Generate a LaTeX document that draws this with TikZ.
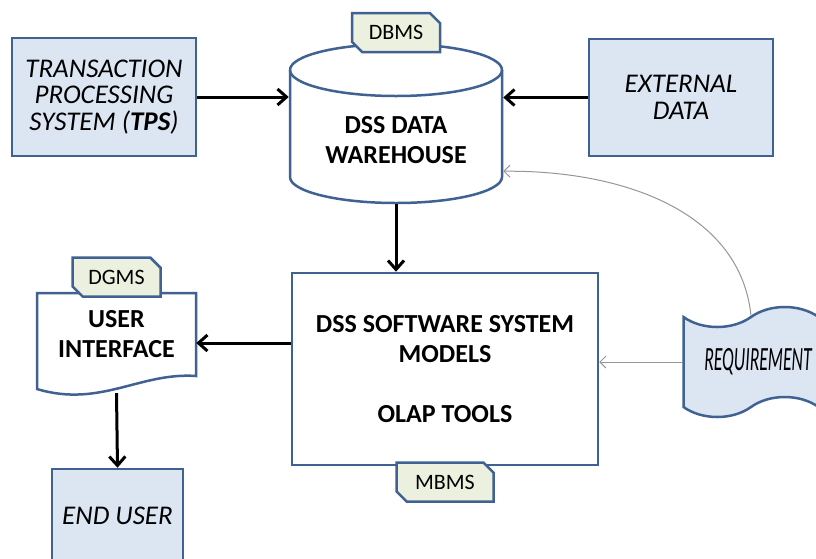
\documentclass[tikz,border=0pt]{standalone}
\usepackage{graphicx}
\usepackage{fontspec}
\setmainfont{Carlito}
\usetikzlibrary{positioning,shapes.misc,shapes.symbols,arrows.meta}
\definecolor{edgeblue}{RGB}{63,98,146}
\definecolor{boxfill}{RGB}{220,230,242}
\definecolor{tabfill}{RGB}{235,241,222}
\definecolor{linkgray}{RGB}{150,150,150}

\begin{document}
\begin{tikzpicture}[x=1pt,y=-1pt,
box/.style={draw=edgeblue,line width=2.5pt,fill=boxfill,rectangle,align=center,
  font=\fontsize{27}{26.5}\selectfont\itshape},
plain/.style={draw=edgeblue,line width=2.5pt,fill=white,align=center,
  font=\fontsize{26}{30}\selectfont\bfseries},
tab/.style={draw=edgeblue,line width=2.5pt,fill=tabfill,chamfered rectangle,
  chamfered rectangle corners={north east,south west},chamfered rectangle xsep=7pt,
  minimum width=88pt,minimum height=39pt,inner sep=0pt,font=\fontsize{22}{24}\selectfont},
flow/.style={-{Straight Barb[length=9pt,width=16pt]},line width=3pt},
feedback/.style={-{Straight Barb[length=6pt,width=12pt]},draw=linkgray,line width=1pt}]
\useasboundingbox (0,0) rectangle (816,558);
\clip (0,0) rectangle (816,558);

\node (tps) [box,minimum width=184pt,minimum height=118pt] at (104,97)
  {TRANSACTION\\PROCESSING\\SYSTEM (\textbf{TPS})};
\node (ext) [box,minimum width=184pt,minimum height=117pt] at (681,97.5)
  {EXTERNAL\\DATA};

\draw [draw=edgeblue,line width=2.5pt,fill=white] (290,70) -- (290,177)
  arc[start angle=180,end angle=360,x radius=106pt,y radius=26pt] -- (502,70)
  arc[start angle=0,end angle=180,x radius=106pt,y radius=26pt] -- cycle;
\draw [draw=edgeblue,line width=2.5pt] (290,70)
  arc[start angle=180,end angle=360,x radius=106pt,y radius=26pt];
\node (dw) [plain,draw=none,fill=none,minimum width=212pt,minimum height=159pt,
    text height=80pt] at (396,123.5)
  {DSS DATA\\WAREHOUSE};
\node (dbms) [tab] at (396,32.5) {DBMS};

\node (sw) [plain,minimum width=306pt,minimum height=192pt] at (445,369)
  {DSS SOFTWARE SYSTEM\\MODELS\\[30pt]OLAP TOOLS};
\node (mbms) [tab,minimum width=97pt,below=-5pt of sw.south] {MBMS};

\draw [draw=edgeblue,line width=2.5pt,fill=white] (37,293) -- (196,293) -- (196,376)
  .. controls (140,372) and (100,408) .. (37,389) -- cycle;
\node (ui) [align=center,font=\fontsize{26}{30}\selectfont\bfseries,
    minimum width=159pt,minimum height=100pt,text depth=18pt] at (116.5,343)
  {USER\\INTERFACE};
\node (dgms) [tab,above=-5pt of ui.north] {DGMS};

\node (eu) [box,minimum width=131pt,minimum height=94pt] at (117.5,516) {END USER};

\node (req) [box,tape,tape bend top=in and out,tape bend bottom=in and out,
    tape bend height=20pt,minimum width=135pt,minimum height=110pt] at (751,362)
  {\fontsize{34}{34}\selectfont\hspace*{14pt}\scalebox{0.52}[1]{REQUIREMENT}};

\draw [flow] (tps.east) -- (tps.east -| dw.west);
\draw [flow] (ext.west) -- (ext.west -| dw.east);
\draw [flow] (dw.south) -- (dw.south |- sw.north);
\draw [flow] (sw.west |- ui.east) -- (ui.east);
\draw [flow] (ui.south) -- (eu.north);
\draw [feedback] (req.west) -- (req.west -| sw.east);
\draw [feedback] (req.north) .. controls (740,210) and (620,170) .. (dw.-24);
\end{tikzpicture}
\end{document}
